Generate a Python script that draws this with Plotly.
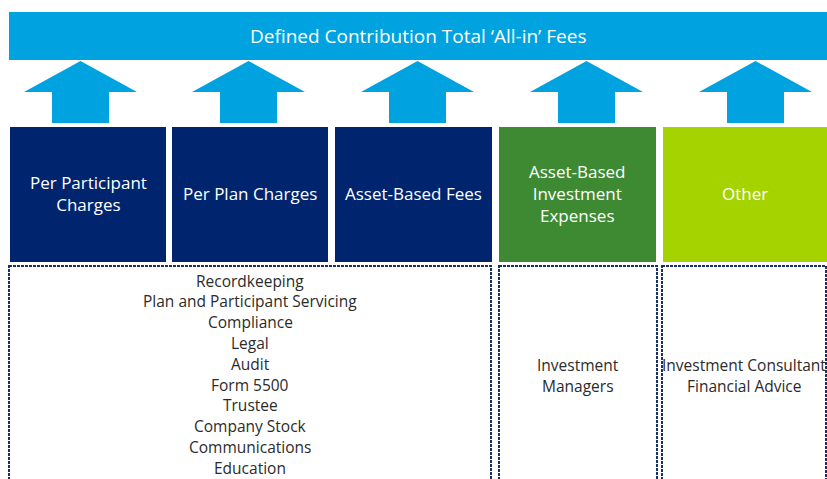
import plotly.graph_objects as go

# ---- content ----
title_text = "Defined Contribution Total ‘All-in’ Fees"
categories = ["Per Participant<br>Charges", "Per Plan Charges", "Asset-Based Fees",
              "Asset-Based<br>Investment<br>Expenses", "Other"]
category_colors = ["#00256E", "#00256E", "#00256E", "#3E8A33", "#A4D300"]
detail_recordkeeping = ["Recordkeeping", "Plan and Participant Servicing", "Compliance", "Legal",
                        "Audit", "Form 5500", "Trustee", "Company Stock", "Communications", "Education"]
detail_investment = ["Investment", "Managers"]
detail_other = ["Investment Consultant", "Financial Advice"]
details = [detail_recordkeeping, detail_investment, detail_other]

# ---- layout geometry (pixels, y downward) ----
W, H = 827, 479
banner = (9, 12, 827, 60)
box_x0 = [10, 172, 335, 499, 663]
box_x1 = [166, 328, 492, 656, 827]
box_y = (127, 262)
arrow_cx = [80.5, 248.5, 417.5, 586.5, 755.5]
arrow_tip, arrow_wing, arrow_bot = 61, 92, 123
head_hw, shaft_hw = 56.5, 28.5
detail_boxes = [(9, 491), (499, 657), (662, 826)]
detail_y0 = 266
detail_first_line = [280.5, 365, 365]
line_step = 20.8

BLUE = "#00A3E0"
FONT = "Open Sans"

shapes = []
annotations = []

# banner
shapes.append(dict(type="rect", x0=banner[0], y0=banner[1], x1=banner[2], y1=banner[3],
                   fillcolor=BLUE, line=dict(width=0), layer="below"))
annotations.append(dict(x=418, y=(banner[1] + banner[3]) / 2,
                        text=title_text, showarrow=False,
                        font=dict(family=FONT, size=19, color="white"),
                        xanchor="center", yanchor="middle"))

# arrows
for cx in arrow_cx:
    path = (f"M {cx} {arrow_tip} L {cx + head_hw} {arrow_wing} L {cx + shaft_hw} {arrow_wing} "
            f"L {cx + shaft_hw} {arrow_bot} L {cx - shaft_hw} {arrow_bot} L {cx - shaft_hw} {arrow_wing} "
            f"L {cx - head_hw} {arrow_wing} Z")
    shapes.append(dict(type="path", path=path, fillcolor=BLUE, line=dict(width=0)))

# category boxes
for x0, x1, label, col in zip(box_x0, box_x1, categories, category_colors):
    shapes.append(dict(type="rect", x0=x0, y0=box_y[0], x1=x1, y1=box_y[1],
                       fillcolor=col, line=dict(width=0)))
    annotations.append(dict(x=(x0 + x1) / 2, y=(box_y[0] + box_y[1]) / 2 - 1, text=label,
                            showarrow=False, xanchor="center", yanchor="middle",
                            font=dict(family=FONT, size=17, color="white")))

# detail boxes
for (x0, x1), items, y_first in zip(detail_boxes, details, detail_first_line):
    shapes.append(dict(type="rect", x0=x0, y0=detail_y0, x1=x1, y1=H + 20,
                       fillcolor="white", line=dict(color="#1B2F66", width=2, dash="3px,1px")))
    for i, item in enumerate(items):
        annotations.append(dict(x=(x0 + x1) / 2, y=y_first + i * line_step, text=item,
                                showarrow=False, xanchor="center", yanchor="middle",
                                font=dict(family=FONT, size=15.5, color="#2b2b2b")))

fig = go.Figure()
fig.update_layout(
    width=W, height=H, margin=dict(l=0, r=0, t=0, b=0),
    paper_bgcolor="white", plot_bgcolor="white",
    xaxis=dict(range=[0, W], visible=False, fixedrange=True),
    yaxis=dict(range=[H, 0], visible=False, fixedrange=True),
    shapes=shapes, annotations=annotations, showlegend=False,
)
fig.write_html("out.html", config={"displayModeBar": False},
               post_script="document.body.style.margin='0';document.body.style.overflow='hidden';")
